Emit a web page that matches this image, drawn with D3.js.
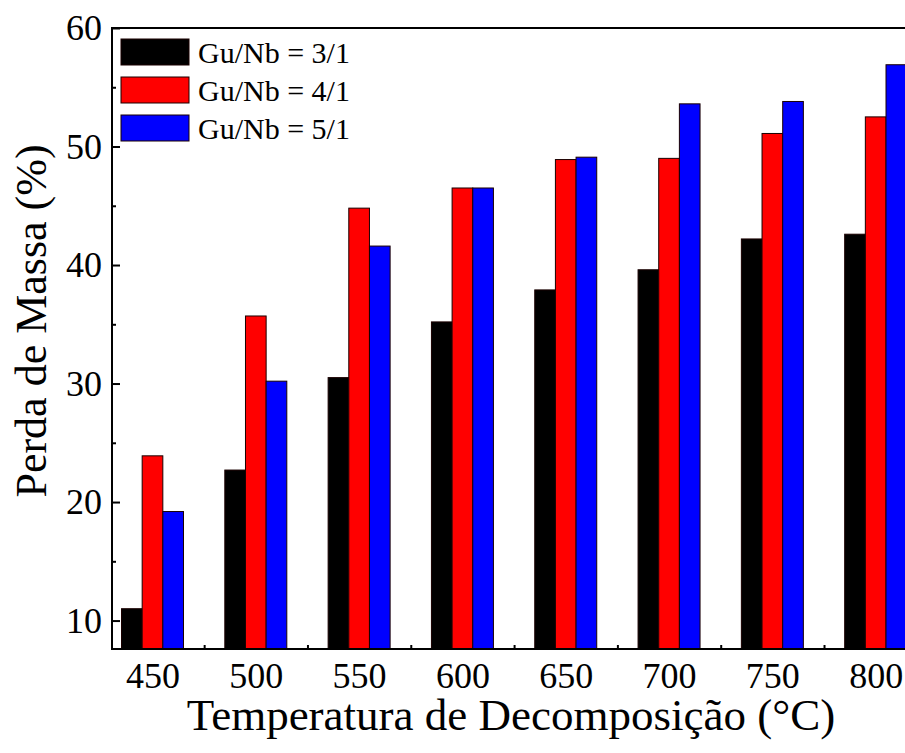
<!DOCTYPE html>
<html>
<head>
<meta charset="utf-8">
<script src="https://cdn.jsdelivr.net/npm/d3@7/dist/d3.min.js"></script>
<style>
  html, body { margin: 0; padding: 0; background: #fff; }
  svg { display: block; }
  text { font-family: "Liberation Serif", "Times New Roman", serif; fill: #000; }
</style>
</head>
<body>
<svg id="chart" width="905" height="753"></svg>
<script>
// Decomposition temperatures (°C)
const temperatures = [450, 500, 550, 600, 650, 700, 750, 800];
// Mass loss (%) for each Gu/Nb ratio
const lossRatio31 = [11.0, 22.7, 30.5, 35.2, 37.9, 39.6, 42.2, 42.6];
const lossRatio41 = [23.9, 35.7, 44.8, 46.5, 48.9, 49.0, 51.1, 52.5];
const lossRatio51 = [19.2, 30.2, 41.6, 46.5, 49.1, 53.6, 53.8, 56.9];
const seriesNames = ["Gu/Nb = 3/1", "Gu/Nb = 4/1", "Gu/Nb = 5/1"];
const seriesColors = ["#000000", "#ff0000", "#0000ff"];
const yTicks = [10, 20, 30, 40, 50, 60];
const yMinorTicks = [15, 25, 35, 45, 55];
const xMinorTicks = [475, 525, 575, 625, 675, 725, 775];

const series = [lossRatio31, lossRatio41, lossRatio51];
const offsets = [-10, 0, 10];   // bar offset within a group (°C)
const barHalf = 5;              // half bar width (°C)

const svg = d3.select("#chart");
const plotLeft = 112, plotRight = 917, plotTop = 28, plotBottom = 649;

const x = d3.scaleLinear().domain([430.4, 820]).range([plotLeft, plotRight]);
const y = d3.scaleLinear().domain([7.6, 60]).range([plotBottom, plotTop]);

// Y axis ticks (inward)
const yAxis = svg.append("g").attr("transform", `translate(${plotLeft},0)`)
  .call(d3.axisLeft(y).tickValues(yTicks).tickSize(-8).tickPadding(10).tickFormat(d3.format("d")));
yAxis.select(".domain").remove();
yAxis.selectAll("line").attr("stroke", "#000").attr("stroke-width", 2);
yAxis.selectAll("text").style("font-size", "36px").attr("fill", "#000");

const yMinor = svg.append("g").attr("transform", `translate(${plotLeft},0)`)
  .call(d3.axisLeft(y).tickValues(yMinorTicks).tickSize(-4).tickFormat(""));
yMinor.select(".domain").remove();
yMinor.selectAll("line").attr("stroke", "#000").attr("stroke-width", 2);

// X axis ticks and labels
const xAxis = svg.append("g").attr("transform", `translate(0,${plotBottom})`)
  .call(d3.axisBottom(x).tickValues(temperatures).tickSize(-8).tickPadding(13).tickFormat(d3.format("d")));
xAxis.select(".domain").remove();
xAxis.selectAll("line").attr("stroke", "#000").attr("stroke-width", 2);
xAxis.selectAll("text").style("font-size", "36px").attr("fill", "#000");

const xMinor = svg.append("g").attr("transform", `translate(0,${plotBottom})`)
  .call(d3.axisBottom(x).tickValues(xMinorTicks).tickSize(-4).tickFormat(""));
xMinor.select(".domain").remove();
xMinor.selectAll("line").attr("stroke", "#000").attr("stroke-width", 2);

// Bars
series.forEach((vals, s) => {
  svg.append("g").selectAll("rect").data(vals).join("rect")
    .attr("x", (d, i) => x(temperatures[i] + offsets[s] - barHalf))
    .attr("width", (d, i) => x(temperatures[i] + offsets[s] + barHalf) - x(temperatures[i] + offsets[s] - barHalf))
    .attr("y", d => y(d))
    .attr("height", d => y(7.6) - y(d))
    .attr("fill", seriesColors[s])
    .attr("stroke", "#1a0000")
    .attr("stroke-width", 1);
});

// Frame lines
svg.append("line").attr("x1", plotLeft).attr("x2", plotLeft).attr("y1", plotTop - 1).attr("y2", plotBottom + 1)
  .attr("stroke", "#000").attr("stroke-width", 2);
svg.append("line").attr("x1", plotLeft - 1).attr("x2", 905).attr("y1", plotBottom).attr("y2", plotBottom)
  .attr("stroke", "#000").attr("stroke-width", 2);
svg.append("line").attr("x1", plotLeft - 1).attr("x2", 905).attr("y1", plotTop).attr("y2", plotTop)
  .attr("stroke", "#000").attr("stroke-width", 2);

// Legend
const legend = svg.append("g");
seriesNames.forEach((name, i) => {
  const yy = 39 + i * 38;
  legend.append("rect").attr("x", 121).attr("y", yy).attr("width", 68).attr("height", 26)
    .attr("fill", seriesColors[i]).attr("stroke", "#1a0000").attr("stroke-width", 1);
  legend.append("text").attr("x", 198).attr("y", yy + 13).attr("dy", "0.35em")
    .style("font-size", "30px").text(name);
});

// Axis titles
svg.append("text").attr("x", 511).attr("y", 730).attr("text-anchor", "middle")
  .style("font-size", "45px").text("Temperatura de Decomposição (°C)");
svg.append("text").attr("transform", "translate(46,321) rotate(-90)").attr("text-anchor", "middle")
  .style("font-size", "44px").text("Perda de Massa (%)");
</script>
</body>
</html>
